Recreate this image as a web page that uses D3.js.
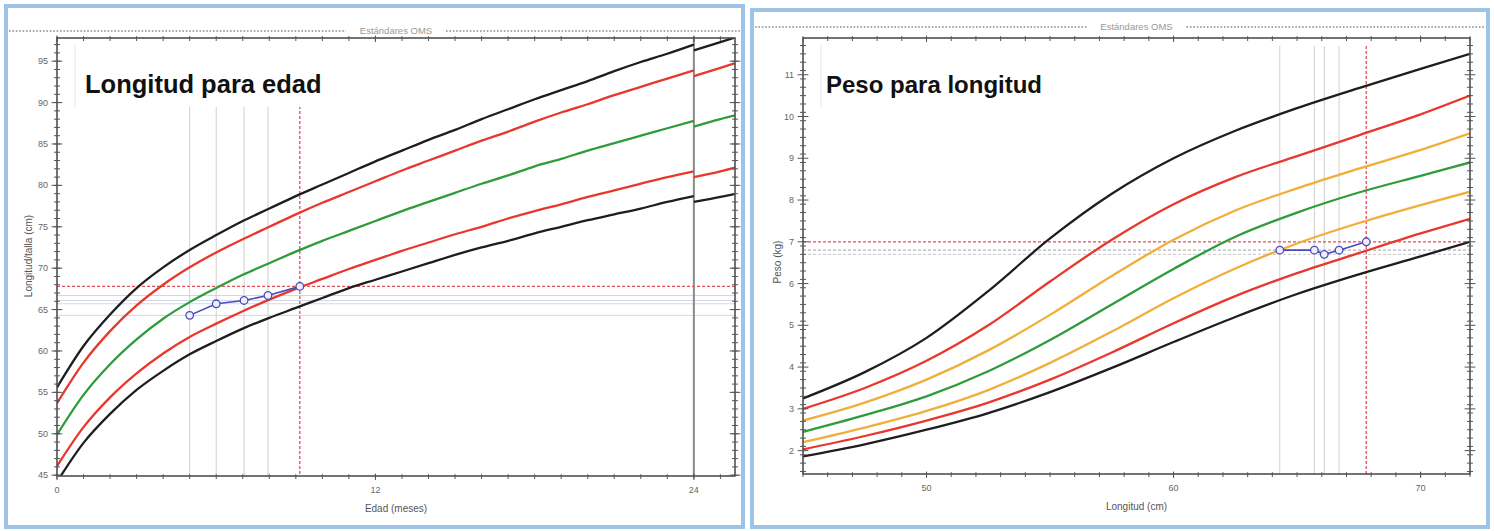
<!DOCTYPE html>
<html>
<head>
<meta charset="utf-8">
<script src="https://cdn.jsdelivr.net/npm/d3@7"></script>
<style>
  body { margin: 0; background: #fff; }
  svg { display: block; font-family: "Liberation Sans", Arial, sans-serif; }
</style>
</head>
<body>
<svg id="chart" width="1494" height="531"></svg>
<script>
  // Longitud para edad (niños) - meses 0..24 acostado
  var ageMonths = [0,1,2,3,4,5,6,7,8,9,10,11,12,13,14,15,16,17,18,19,20,21,22,23,24];
  var lfaNeg3 = [44.2,48.9,52.4,55.3,57.6,59.6,61.2,62.7,64.0,65.2,66.4,67.6,68.6,69.6,70.6,71.6,72.5,73.3,74.2,75.0,75.8,76.5,77.2,78.0,78.7];
  var lfaNeg2 = [46.1,50.8,54.4,57.3,59.7,61.7,63.3,64.8,66.2,67.5,68.7,69.9,71.0,72.1,73.1,74.1,75.0,76.0,76.9,77.7,78.6,79.4,80.2,81.0,81.7];
  var lfaMed  = [49.9,54.7,58.4,61.4,63.9,65.9,67.6,69.2,70.6,72.0,73.3,74.5,75.7,76.9,78.0,79.1,80.2,81.2,82.3,83.2,84.2,85.1,86.0,86.9,87.8];
  var lfaPos2 = [53.7,58.6,62.4,65.5,68.0,70.1,71.9,73.5,75.0,76.5,77.9,79.2,80.5,81.8,83.0,84.2,85.4,86.5,87.7,88.8,89.8,90.9,91.9,92.9,93.9];
  var lfaPos3 = [55.6,60.6,64.4,67.6,70.1,72.2,74.0,75.7,77.2,78.7,80.1,81.5,82.9,84.2,85.5,86.7,88.0,89.2,90.4,91.5,92.6,93.8,94.9,95.9,97.0];

  // talla (de pie) desde 24 meses
  var ageStanding = [24,25,26];
  var hfaNeg3 = [78.0,78.6,79.3];
  var hfaNeg2 = [81.0,81.7,82.5];
  var hfaMed  = [87.1,88.0,88.8];
  var hfaPos2 = [93.2,94.2,95.2];
  var hfaPos3 = [96.3,97.3,98.3];

  // Peso para longitud
  var lengthCm = [45,47.5,50,52.5,55,57.5,60,62.5,65,67.5,70,72];
  var wflPos3 = [3.25,3.88,4.7,5.82,7.08,8.15,9.0,9.66,10.2,10.68,11.14,11.5];
  var wflPos2 = [3.0,3.5,4.15,5.0,6.05,7.05,7.9,8.55,9.05,9.55,10.05,10.5];
  var wflPos1 = [2.72,3.15,3.7,4.4,5.25,6.18,7.05,7.75,8.28,8.75,9.2,9.6];
  var wflMed  = [2.45,2.85,3.3,3.9,4.65,5.5,6.35,7.12,7.7,8.18,8.58,8.9];
  var wflNeg1 = [2.2,2.55,2.95,3.45,4.1,4.85,5.65,6.36,6.96,7.45,7.88,8.2];
  var wflNeg2 = [2.03,2.35,2.72,3.15,3.7,4.35,5.05,5.7,6.25,6.73,7.2,7.55];
  var wflNeg3 = [1.86,2.15,2.5,2.9,3.4,3.98,4.6,5.2,5.75,6.22,6.65,7.0];

  // Controles del niño
  var childAge    = [5.0, 6.0, 7.05, 7.95, 9.15];
  var childLength = [64.3, 65.7, 66.1, 66.7, 67.8];
  var childWeight = [6.8, 6.8, 6.7, 6.8, 7.0];

  var BLACK = "#1e1e1e", RED = "#e8382d", GREEN = "#2f9c3c", ORANGE = "#f0ae3a";

  var svg = d3.select("#chart");

  function zip(xs, ys) { return xs.map(function(v, i) { return [v, ys[i]]; }); }

  function drawPanel(p) {
    var g = svg.append("g");

    // marco azul
    g.append("rect")
      .attr("x", p.frame[0]).attr("y", p.frame[1])
      .attr("width", p.frame[2]).attr("height", p.frame[3])
      .attr("fill", "#fff").attr("stroke", "#9dc3e6").attr("stroke-width", 4);

    // linea punteada con "Estándares OMS"
    var cx = (p.left + p.right) / 2;
    [[p.frame[0] + 3, cx - 50], [cx + 50, p.frame[0] + p.frame[2] - 3]].forEach(function(s) {
      g.append("line")
        .attr("x1", s[0]).attr("x2", s[1]).attr("y1", p.headerY).attr("y2", p.headerY)
        .attr("stroke", "#8a8a8a").attr("stroke-width", 1.6).attr("stroke-dasharray", "1.6,1.8");
    });
    g.append("text")
      .attr("x", cx).attr("y", p.headerY + 3)
      .attr("text-anchor", "middle").attr("font-size", "9.5px").attr("fill", "#999")
      .text("Estándares OMS");

    var x = d3.scaleLinear().domain(p.xDomain).range([p.left, p.right]);
    var y = d3.scaleLinear().domain(p.yDomain).range([p.bottom, p.top]);

    g.append("clipPath").attr("id", p.id + "clip")
      .append("rect")
      .attr("x", p.left).attr("y", p.top)
      .attr("width", p.right - p.left).attr("height", p.bottom - p.top);

    var plot = g.append("g").attr("clip-path", "url(#" + p.id + "clip)");

    // lineas de referencia de los controles
    var n = p.childX.length;
    p.childY.slice(0, n - 1).forEach(function(v) {
      plot.append("line")
        .attr("x1", p.left).attr("x2", p.right).attr("y1", y(v)).attr("y2", y(v))
        .attr("stroke", p.hGuide).attr("stroke-width", 1)
        .attr("stroke-dasharray", p.hDash);
    });
    p.childX.slice(0, n - 1).forEach(function(v) {
      plot.append("line")
        .attr("x1", x(v)).attr("x2", x(v)).attr("y1", p.top + 8).attr("y2", p.bottom)
        .attr("stroke", "#cfcfcf").attr("stroke-width", 1);
    });
    plot.append("line")
      .attr("x1", p.left).attr("x2", p.right)
      .attr("y1", y(p.childY[n - 1])).attr("y2", y(p.childY[n - 1]))
      .attr("stroke", "#e0505a").attr("stroke-width", 1.3).attr("stroke-dasharray", "3,2");
    plot.append("line")
      .attr("x1", x(p.childX[n - 1])).attr("x2", x(p.childX[n - 1]))
      .attr("y1", p.top + 8).attr("y2", p.bottom)
      .attr("stroke", "#e0505a").attr("stroke-width", 1.3).attr("stroke-dasharray", "3,2");

    if (p.extra) p.extra(plot, x, y);

    // curvas
    var line = d3.line()
      .x(function(d) { return x(d[0]); })
      .y(function(d) { return y(d[1]); })
      .curve(d3.curveMonotoneX);

    p.curves.forEach(function(c) {
      plot.append("path")
        .attr("d", line(c.pts))
        .attr("fill", "none")
        .attr("stroke", c.color)
        .attr("stroke-width", 2.3);
    });

    // caja del titulo
    g.append("rect")
      .attr("x", p.left + 18).attr("y", p.top + 7)
      .attr("width", p.titleW).attr("height", 62)
      .attr("fill", "#fff").attr("stroke", "none");
    g.append("line")
      .attr("x1", p.left + 18).attr("x2", p.left + 18)
      .attr("y1", p.top + 7).attr("y2", p.top + 69)
      .attr("stroke", "#e4e4e4");
    g.append("text")
      .attr("x", p.left + p.titleDx).attr("y", p.top + 55)
      .attr("font-size", p.titleSize).attr("font-weight", "bold").attr("fill", "#111")
      .text(p.title);

    // puntos del niño
    var pts = zip(p.childX, p.childY);
    g.append("path")
      .attr("d", d3.line().x(function(d) { return x(d[0]); }).y(function(d) { return y(d[1]); })(pts))
      .attr("fill", "none").attr("stroke", "#4a4ab8").attr("stroke-width", 1.6);
    g.selectAll(".pt" + p.id)
      .data(pts)
      .enter().append("circle")
      .attr("cx", function(d) { return x(d[0]); })
      .attr("cy", function(d) { return y(d[1]); })
      .attr("r", 3.8)
      .attr("fill", "#eef").attr("stroke", "#4a4ab8").attr("stroke-width", 1.3);

    // marco del grafico
    g.append("rect")
      .attr("x", p.left).attr("y", p.top)
      .attr("width", p.right - p.left).attr("height", p.bottom - p.top)
      .attr("fill", "none").attr("stroke", "#444").attr("stroke-width", 1.5);

    // marcas de los ejes (en los cuatro lados)
    function xTicks(vals, len) {
      vals.forEach(function(v) {
        [p.bottom, p.top].forEach(function(py) {
          g.append("line")
            .attr("x1", x(v)).attr("x2", x(v))
            .attr("y1", py - len * 0.6).attr("y2", py + len)
            .attr("stroke", "#555").attr("stroke-width", 1);
        });
      });
    }
    function yTicks(vals, len) {
      vals.forEach(function(v) {
        [p.left, p.right].forEach(function(px) {
          g.append("line")
            .attr("x1", px - len * 0.6).attr("x2", px + len * 0.6)
            .attr("y1", y(v)).attr("y2", y(v))
            .attr("stroke", "#555").attr("stroke-width", 1);
        });
      });
    }
    xTicks(p.xMinor, 3);
    xTicks(p.xMajor, 4);
    yTicks(p.yMinor, 5);
    yTicks(p.yMajor, 9);

    // etiquetas de las marcas
    g.selectAll(".xl" + p.id)
      .data(p.xMajor)
      .enter().append("text")
      .attr("x", function(d) { return x(d); })
      .attr("y", p.bottom + 17)
      .attr("text-anchor", "middle").attr("font-size", "9px").attr("fill", "#666")
      .text(function(d) { return d; });
    g.selectAll(".yl" + p.id)
      .data(p.yMajor)
      .enter().append("text")
      .attr("x", p.left - 9)
      .attr("y", function(d) { return y(d) + 3; })
      .attr("text-anchor", "end").attr("font-size", "9px").attr("fill", "#666")
      .text(function(d) { return d; });

    // titulos de los ejes
    g.append("text")
      .attr("x", cx).attr("y", p.bottom + 36)
      .attr("text-anchor", "middle").attr("font-size", "10px").attr("fill", "#555")
      .text(p.xLabel);
    g.append("text")
      .attr("transform", "translate(" + p.yLabelX + "," + p.yLabelY + ") rotate(-90)")
      .attr("text-anchor", "middle").attr("font-size", "10px").attr("fill", "#555")
      .text(p.yLabel);
  }

  drawPanel({
    id: "lfa",
    frame: [6, 6, 737, 521],
    headerY: 31,
    left: 57, top: 38, right: 735, bottom: 476,
    xDomain: [0, 25.55], yDomain: [44.9, 97.8],
    xMajor: [0, 12, 24],
    xMinor: d3.range(0, 26),
    yMajor: [45, 50, 55, 60, 65, 70, 75, 80, 85, 90, 95],
    yMinor: d3.range(45, 98),
    title: "Longitud para edad", titleW: 260, titleDx: 28, titleSize: "25.5px",
    xLabel: "Edad (meses)", yLabel: "Longitud/talla (cm)",
    yLabelX: 32, yLabelY: 256,
    childX: childAge, childY: childLength,
    hGuide: "#cfd8ea", hDash: null,
    extra: function(plot, x, y) {
      plot.append("line")
        .attr("x1", x(24)).attr("x2", x(24)).attr("y1", 38).attr("y2", 476)
        .attr("stroke", "#8a8a8a").attr("stroke-width", 2);
    },
    curves: [
      {color: BLACK, pts: zip(ageMonths, lfaPos3)},
      {color: RED, pts: zip(ageMonths, lfaPos2)},
      {color: GREEN, pts: zip(ageMonths, lfaMed)},
      {color: RED, pts: zip(ageMonths, lfaNeg2)},
      {color: BLACK, pts: zip(ageMonths, lfaNeg3)},
      {color: BLACK, pts: zip(ageStanding, hfaPos3)},
      {color: RED, pts: zip(ageStanding, hfaPos2)},
      {color: GREEN, pts: zip(ageStanding, hfaMed)},
      {color: RED, pts: zip(ageStanding, hfaNeg2)},
      {color: BLACK, pts: zip(ageStanding, hfaNeg3)}
    ]
  });

  drawPanel({
    id: "wfl",
    frame: [752, 10, 736, 517],
    headerY: 27,
    left: 803, top: 38, right: 1470, bottom: 474,
    xDomain: [45, 72], yDomain: [1.44, 11.88],
    xMajor: [50, 60, 70],
    xMinor: d3.range(45, 73),
    yMajor: [2, 3, 4, 5, 6, 7, 8, 9, 10, 11],
    yMinor: d3.range(15, 119, 2).map(function(v) { return v / 10; }),
    title: "Peso para longitud", titleW: 245, titleDx: 23, titleSize: "24px",
    xLabel: "Longitud (cm)", yLabel: "Peso (kg)",
    yLabelX: 781, yLabelY: 262,
    childX: childLength, childY: childWeight,
    hGuide: "#c8c8c8", hDash: "3,2",
    curves: [
      {color: BLACK, pts: zip(lengthCm, wflPos3)},
      {color: RED, pts: zip(lengthCm, wflPos2)},
      {color: ORANGE, pts: zip(lengthCm, wflPos1)},
      {color: GREEN, pts: zip(lengthCm, wflMed)},
      {color: ORANGE, pts: zip(lengthCm, wflNeg1)},
      {color: RED, pts: zip(lengthCm, wflNeg2)},
      {color: BLACK, pts: zip(lengthCm, wflNeg3)}
    ]
  });
</script>
</body>
</html>
